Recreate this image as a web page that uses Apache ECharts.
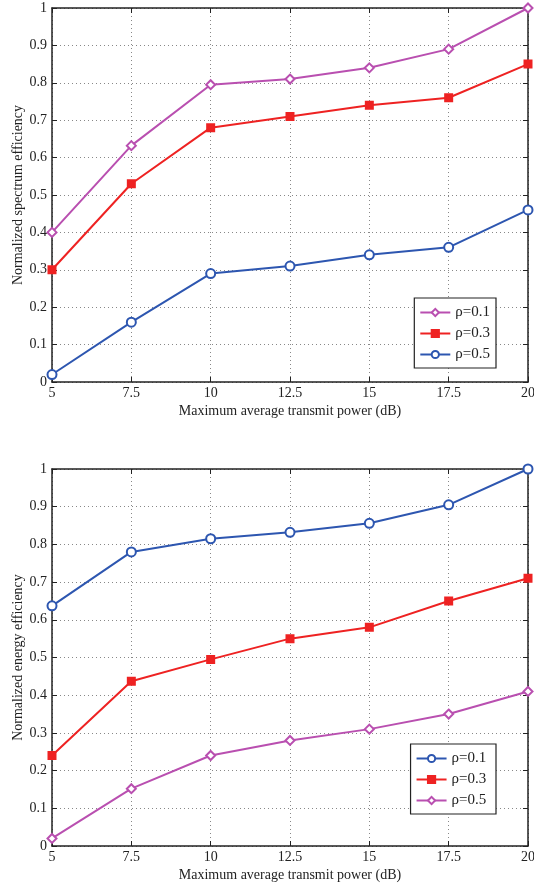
<!DOCTYPE html>
<html><head><meta charset="utf-8">
<script src="https://cdn.jsdelivr.net/npm/echarts@6/dist/echarts.min.js"></script>
<style>html,body{margin:0;padding:0;background:#fff}#c{width:534px;height:888px}</style>
</head><body><div id="c"></div>
<script>
const xValues = [5, 7.5, 10, 12.5, 15, 17.5, 20];
const xTicks = ['5', '7.5', '10', '12.5', '15', '17.5', '20'];
// Top chart: spectrum efficiency
const seRho01 = [0.40, 0.632, 0.795, 0.81, 0.84, 0.89, 1.0];
const seRho03 = [0.30, 0.53, 0.68, 0.71, 0.74, 0.76, 0.85];
const seRho05 = [0.02, 0.16, 0.29, 0.31, 0.34, 0.36, 0.46];
// Bottom chart: energy efficiency
const eeRho01 = [0.637, 0.78, 0.815, 0.832, 0.856, 0.905, 1.0];
const eeRho03 = [0.24, 0.437, 0.495, 0.55, 0.58, 0.65, 0.71];
const eeRho05 = [0.02, 0.152, 0.24, 0.28, 0.31, 0.35, 0.41];
const seriesNames = ['ρ=0.1', 'ρ=0.3', 'ρ=0.5'];
const xTitle = 'Maximum average transmit power (dB)';
const yTitleTop = 'Normalized spectrum efficiency';
const yTitleBottom = 'Normalized energy efficiency';

const MAG = '#B94FB0', RED = '#EE2222', BLUE = '#2D56B0';
const FONT = 'Liberation Serif';
const pair = arr => arr.map((v, i) => [xValues[i], v]);
const fmtY = v => (v === 0 ? '0' : v === 1 ? '1' : v.toFixed(1));
const fmtX = v => { const i = xValues.indexOf(v); return i >= 0 ? xTicks[i] : ''; };

const grids = [
  {left: 52, right: 6, top: 8, height: 374, outerBoundsMode: 'none', containLabel: false},
  {left: 52, right: 6, top: 469, height: 377, outerBoundsMode: 'none', containLabel: false}
];
const gridLine = {show: true, lineStyle: {color: '#888', type: [1, 3], width: 1}};
function xAxes(gi, title) {
  return [{
    type: 'value', gridIndex: gi, min: 5, max: 20, interval: 2.5, position: 'bottom',
    name: title, nameLocation: 'middle', nameGap: 22,
    nameTextStyle: {fontFamily: FONT, fontSize: 14, color: '#222'},
    axisLine: {show: true, onZero: false, lineStyle: {color: '#222', width: 1.5}},
    axisTick: {show: true, inside: true, length: 5, lineStyle: {color: '#222'}},
    axisLabel: {fontFamily: FONT, fontSize: 14, color: '#222', margin: 4, formatter: fmtX, showMaxLabel: true},
    splitLine: gridLine
  }, {
    type: 'value', gridIndex: gi, min: 5, max: 20, interval: 2.5, position: 'top',
    axisLine: {show: true, onZero: false, lineStyle: {color: '#222', width: 1.5}},
    axisTick: {show: true, inside: true, length: 5, lineStyle: {color: '#222'}},
    axisLabel: {show: false}, splitLine: {show: false}
  }];
}
function yAxes(gi, title) {
  return [{
    type: 'value', gridIndex: gi, min: 0, max: 1, interval: 0.1, position: 'left',
    name: title, nameLocation: 'middle', nameGap: 27, nameRotate: 90, nameMoveOverlap: false,
    nameTextStyle: {fontFamily: FONT, fontSize: 14, color: '#222'},
    axisLine: {show: true, onZero: false, lineStyle: {color: '#222', width: 1.5}},
    axisTick: {show: true, inside: true, length: 5, lineStyle: {color: '#222'}},
    axisLabel: {fontFamily: FONT, fontSize: 14, color: '#222', margin: 5, formatter: fmtY},
    splitLine: gridLine
  }, {
    type: 'value', gridIndex: gi, min: 0, max: 1, interval: 0.1, position: 'right',
    axisLine: {show: true, onZero: false, lineStyle: {color: '#222', width: 1.5}},
    axisTick: {show: true, inside: true, length: 5, lineStyle: {color: '#222'}},
    axisLabel: {show: false}, splitLine: {show: false}
  }];
}
function ser(name, data, color, symbol, xi, yi) {
  return {
    name, type: 'line', data: pair(data), xAxisIndex: xi, yAxisIndex: yi,
    symbol, symbolSize: symbol === 'rect' ? 7 : 9, showAllSymbol: true,
    lineStyle: {color, width: 2}, itemStyle: {color, borderColor: color, borderWidth: 2},
    emphasis: {disabled: true}, animation: false, z: 5
  };
}
const legendBase = {
  orient: 'vertical', itemWidth: 30, itemHeight: 9, itemGap: 6,
  backgroundColor: '#fff', borderColor: '#222', borderWidth: 1.2, padding: [7, 6, 6, 5],
  textStyle: {fontFamily: FONT, fontSize: 15, color: '#222'}
};
const option = {
  backgroundColor: '#fff',
  animation: false,
  grid: grids,
  xAxis: [...xAxes(0, xTitle), ...xAxes(1, xTitle)],
  yAxis: [...yAxes(0, yTitleTop), ...yAxes(1, yTitleBottom)],
  legend: [
    Object.assign({}, legendBase, {right: 38, top: 298, data: [
      {name: seriesNames[0]}, {name: seriesNames[1]}, {name: seriesNames[2]}]}),
    Object.assign({}, legendBase, {right: 38, top: 744, data: [
      {name: seriesNames[0] + ' '}, {name: seriesNames[1] + ' '}, {name: seriesNames[2] + ' '}]})
  ],
  series: [
    ser(seriesNames[0], seRho01, MAG, 'emptyDiamond', 0, 0),
    ser(seriesNames[1], seRho03, RED, 'rect', 0, 0),
    ser(seriesNames[2], seRho05, BLUE, 'emptyCircle', 0, 0),
    ser(seriesNames[0] + ' ', eeRho01, BLUE, 'emptyCircle', 2, 2),
    ser(seriesNames[1] + ' ', eeRho03, RED, 'rect', 2, 2),
    ser(seriesNames[2] + ' ', eeRho05, MAG, 'emptyDiamond', 2, 2)
  ]
};
const chart = echarts.init(document.getElementById('c'), null, {renderer: 'canvas'});
chart.setOption(option);
</script></body></html>
